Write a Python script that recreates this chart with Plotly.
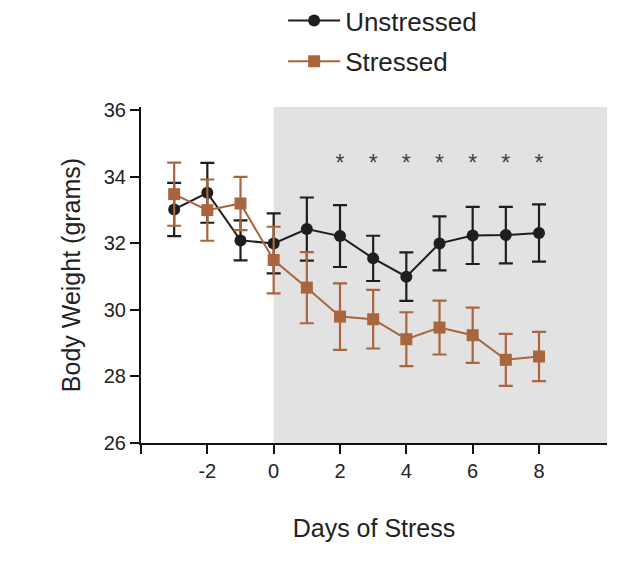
import plotly.graph_objects as go

days = [-3, -2, -1, 0, 1, 2, 3, 4, 5, 6, 7, 8]
unstressed = [33.02, 33.52, 32.09, 32.0, 32.43, 32.22, 31.55, 31.0, 32.0, 32.24, 32.25, 32.31]
unstressed_err = [0.8, 0.9, 0.6, 0.9, 0.95, 0.93, 0.68, 0.73, 0.81, 0.86, 0.85, 0.86]
stressed = [33.48, 33.0, 33.2, 31.5, 30.67, 29.8, 29.72, 29.12, 29.47, 29.24, 28.5, 28.6]
stressed_err = [0.95, 0.92, 0.8, 1.0, 1.07, 1.0, 0.88, 0.81, 0.81, 0.83, 0.78, 0.74]
star_days = [2, 3, 4, 5, 6, 7, 8]
star_labels = ["*"] * 7
star_level = 34.35

x_tickvals = [-4, -2, 0, 2, 4, 6, 8]
x_ticktext = ["", "-2", "0", "2", "4", "6", "8"]
y_tickvals = [26, 28, 30, 32, 34, 36]

BLACK = "#1e1e1e"
BROWN = "#a9653e"
FONT = "Liberation Sans, Arial, sans-serif"

fig = go.Figure()

fig.add_shape(type="rect", xref="x", yref="paper", x0=0, x1=10.05, y0=0, y1=1,
              fillcolor="#e2e2e2", line=dict(width=0), layer="below")

fig.add_trace(go.Scatter(
    x=days, y=unstressed, name="Unstressed", mode="lines+markers",
    line=dict(color=BLACK, width=2),
    marker=dict(symbol="circle", size=12, color=BLACK),
    error_y=dict(type="data", array=unstressed_err, color=BLACK, thickness=2.2, width=7),
    legendgroup="a",
))
fig.add_trace(go.Scatter(
    x=days, y=stressed, name="Stressed", mode="lines+markers",
    line=dict(color=BROWN, width=2),
    marker=dict(symbol="square", size=12, color=BROWN),
    error_y=dict(type="data", array=stressed_err, color=BROWN, thickness=2.2, width=7),
    legendgroup="b",
))
fig.add_trace(go.Scatter(
    x=star_days, y=[star_level] * len(star_days), text=star_labels, mode="text",
    textfont=dict(size=23, color="#444444", family=FONT), showlegend=False,
    hoverinfo="skip",
))

fig.update_layout(
    width=641, height=564,
    margin=dict(l=141, r=34, t=107, b=121, autoexpand=False),
    paper_bgcolor="white", plot_bgcolor="white",
    font=dict(family=FONT, color="#222222"),
    legend=dict(x=0.305, y=1.327, xanchor="left", yanchor="top",
                font=dict(size=26, color="#222222"), tracegroupgap=4, itemwidth=52,
                bgcolor="rgba(0,0,0,0)"),
    xaxis=dict(range=[-4, 10.05], tickvals=x_tickvals, ticktext=x_ticktext,
               showgrid=False, zeroline=False, showline=True, linecolor="#111111", linewidth=2,
               ticks="outside", ticklen=9, tickwidth=2, tickcolor="#111111",
               tickfont=dict(size=20, color="#222222"),
               title=dict(text="Days of Stress", font=dict(size=25, color="#222222"), standoff=38)),
    yaxis=dict(range=[26, 36.1], tickvals=y_tickvals,
               showgrid=False, zeroline=False, showline=True, linecolor="#111111", linewidth=2,
               ticks="outside", ticklen=9, tickwidth=2, tickcolor="#111111",
               tickfont=dict(size=20, color="#222222"),
               title=dict(text="Body Weight (grams)", font=dict(size=25, color="#222222"), standoff=16)),
)

fig.write_html("out.html")
